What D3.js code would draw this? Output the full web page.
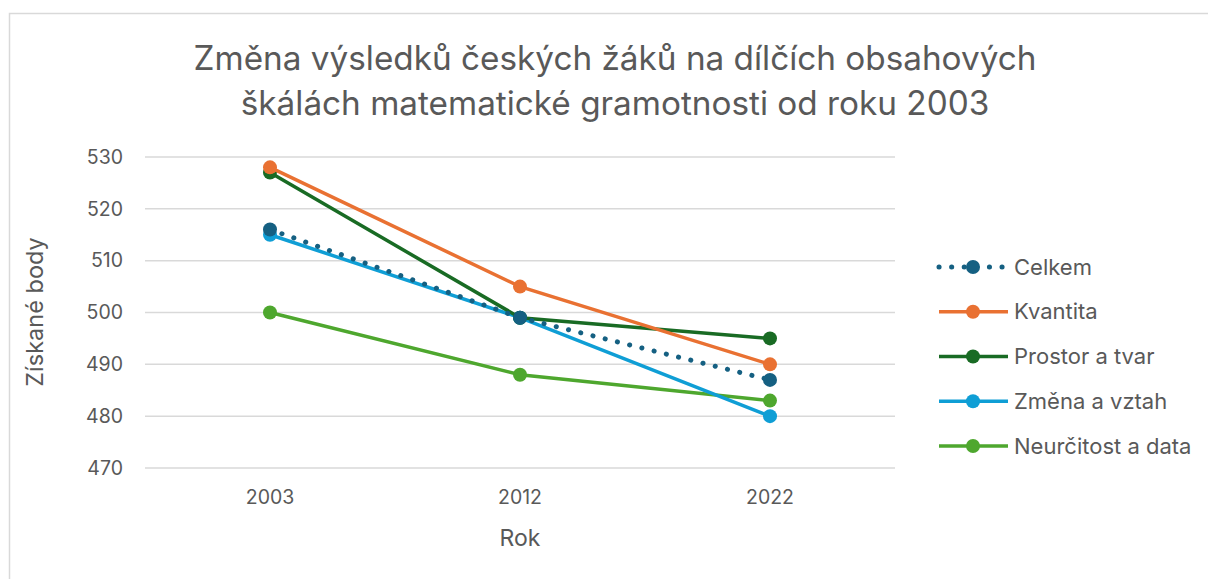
<!DOCTYPE html>
<html>
<head>
<meta charset="utf-8">
<script src="https://cdn.jsdelivr.net/npm/d3@7"></script>
<style>
  body { margin: 0; background: #fff; }
  svg text { font-family: Inter, "Noto Sans", sans-serif; fill: #595959; }
</style>
</head>
<body>
<div id="chart"></div>
<script>
// data
var years = ["2003", "2012", "2022"];
var celkem = [516, 499, 487];
var kvantita = [528, 505, 490];
var prostorATvar = [527, 499, 495];
var zmenaAVztah = [515, 499, 480];
var neurcitostAData = [500, 488, 483];
var yTicks = [470, 480, 490, 500, 510, 520, 530];

var series = [
  { name: "Celkem", values: celkem, color: "#156082", dotted: true },
  { name: "Kvantita", values: kvantita, color: "#E97132" },
  { name: "Prostor a tvar", values: prostorATvar, color: "#196B24" },
  { name: "Změna a vztah", values: zmenaAVztah, color: "#0F9ED5" },
  { name: "Neurčitost a data", values: neurcitostAData, color: "#4EA72E" }
];

var width = 1208, height = 579;
var margin = { top: 157, left: 145, right: 313, bottom: 111 };

var svg = d3.select("#chart").append("svg")
  .attr("width", width)
  .attr("height", height);

// outer chart border
svg.append("rect")
  .attr("x", 9.5).attr("y", 13.5)
  .attr("width", 1210).attr("height", 580)
  .attr("fill", "none")
  .attr("stroke", "#d9d9d9")
  .attr("stroke-width", 1.5);

var x = d3.scaleBand()
  .domain(years)
  .range([margin.left, width - margin.right]);

var y = d3.scaleLinear()
  .domain([470, 530])
  .range([height - margin.bottom, margin.top]);

// gridlines
svg.append("g")
  .selectAll("line")
  .data(yTicks)
  .enter().append("line")
  .attr("x1", margin.left)
  .attr("x2", width - margin.right)
  .attr("y1", function(d) { return y(d); })
  .attr("y2", function(d) { return y(d); })
  .attr("stroke", "#d9d9d9")
  .attr("stroke-width", 1.5);

// y axis labels
var yAxis = svg.append("g")
  .attr("transform", "translate(" + (margin.left - 22) + ",0)")
  .call(d3.axisLeft(y).tickValues(yTicks).tickSize(0).tickPadding(0));
yAxis.select(".domain").remove();
yAxis.selectAll("text")
  .style("font-size", "19.5px")
  .attr("fill", "#595959");

// x axis labels
var xAxis = svg.append("g")
  .attr("transform", "translate(0," + (height - margin.bottom + 22) + ")")
  .call(d3.axisBottom(x).tickSize(0).tickPadding(0));
xAxis.select(".domain").remove();
xAxis.selectAll("text")
  .style("font-size", "19.5px")
  .attr("fill", "#595959");

// title
var title = svg.append("text")
  .attr("text-anchor", "middle")
  .style("font-size", "33.3px");
title.append("tspan").attr("x", 615).attr("y", 70).text("Změna výsledků českých žáků na dílčích obsahových");
title.append("tspan").attr("x", 615).attr("y", 115).text("škálách matematické gramotnosti od roku 2003");

// axis titles
svg.append("text")
  .attr("transform", "translate(43,312) rotate(-90)")
  .attr("text-anchor", "middle")
  .style("font-size", "23.5px")
  .text("Získané body");

svg.append("text")
  .attr("x", x("2012") + x.bandwidth() / 2)
  .attr("y", 546)
  .attr("text-anchor", "middle")
  .style("font-size", "23px")
  .text("Rok");

var line = d3.line()
  .x(function(d, i) { return x(years[i]) + x.bandwidth() / 2; })
  .y(function(d) { return y(d); });

// draw in reverse so Celkem sits on top like the original
var drawOrder = series.slice().reverse();

drawOrder.forEach(function(s) {
  var g = svg.append("g");
  g.append("path")
    .datum(s.values)
    .attr("d", line)
    .attr("fill", "none")
    .attr("stroke", s.color)
    .attr("stroke-width", s.dotted ? 5 : 3.5)
    .attr("stroke-linecap", s.dotted ? "round" : "butt")
    .attr("stroke-dasharray", s.dotted ? "0.1,12.5" : null);
  g.selectAll("circle")
    .data(s.values)
    .enter().append("circle")
    .attr("cx", function(d, i) { return x(years[i]) + x.bandwidth() / 2; })
    .attr("cy", function(d) { return y(d); })
    .attr("r", 7)
    .attr("fill", s.color);
});

// legend
var legend = svg.append("g");
var legendY = d3.scalePoint()
  .domain(series.map(function(s) { return s.name; }))
  .range([267, 446]);

series.forEach(function(s) {
  var ly = legendY(s.name);
  var item = legend.append("g");
  item.append("line")
    .attr("x1", 939).attr("x2", 1008)
    .attr("y1", ly).attr("y2", ly)
    .attr("stroke", s.color)
    .attr("stroke-width", s.dotted ? 5 : 3.5)
    .attr("stroke-linecap", s.dotted ? "round" : "butt")
    .attr("stroke-dasharray", s.dotted ? "0.1,12.5" : null);
  item.append("circle")
    .attr("cx", 973).attr("cy", ly).attr("r", 7)
    .attr("fill", s.color);
  item.append("text")
    .attr("x", 1014).attr("y", ly)
    .attr("dy", "0.35em")
    .style("font-size", "22px")
    .text(s.name);
});
</script>
</body>
</html>
